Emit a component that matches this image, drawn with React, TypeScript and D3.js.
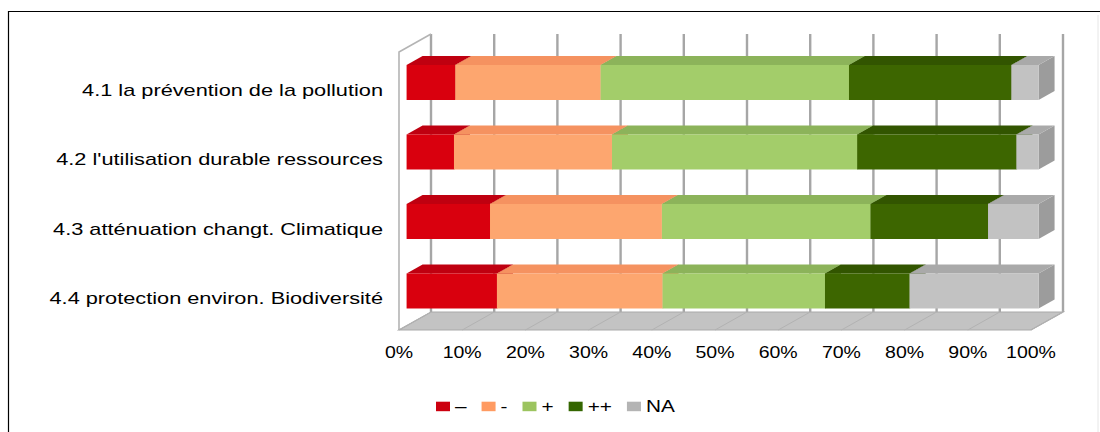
import React from "react";
import * as d3 from "d3";

const categories = [
  "4.1 la prévention de la pollution",
  "4.2 l'utilisation durable ressources",
  "4.3 atténuation changt. Climatique",
  "4.4 protection environ. Biodiversité",
];
const seriesNames = ["–", "-", "+", "++", "NA"];
const sMinusMinus = [7.7, 7.5, 13.2, 14.3];
const sMinus = [23.0, 25.0, 27.2, 26.2];
const sPlus = [39.3, 38.8, 33.0, 25.7];
const sPlusPlus = [25.7, 25.2, 18.6, 13.4];
const sNA = [4.3, 3.5, 8.0, 20.4];
const tickValues = [0, 10, 20, 30, 40, 50, 60, 70, 80, 90, 100];

const seriesValues = [sMinusMinus, sMinus, sPlus, sPlusPlus, sNA];

const frontColors = ["#d9000e", "#fda66f", "#a3cd6a", "#3d6600", "#c2c2c2"];
const topColors = ["#bf0010", "#f59260", "#8cb35a", "#325500", "#a9a9a9"];
const sideColors = ["#a8000e", "#e07f50", "#7aa04c", "#2a4800", "#9c9c9c"];
const legendColors = ["#cc000f", "#ff9b62", "#9cc45f", "#346600", "#b4b4b4"];

const W = 1100;
const H = 432;
const FONT = "'Liberation Sans', Arial, sans-serif";

function measure(text: string, size: number) {
  if (typeof document === "undefined") return text.length * size * 0.55;
  const c = document.createElement("canvas");
  const ctx = c.getContext("2d");
  if (!ctx) return text.length * size * 0.55;
  ctx.font = `${size}px 'Liberation Sans', Arial, sans-serif`;
  return ctx.measureText(text).width;
}

export default function App() {
  const x = d3.scaleLinear().domain([0, 100]).range([399, 1031]);
  const y = d3
    .scaleBand<string>()
    .domain(categories)
    .range([52, 330])
    .paddingInner(0.496)
    .paddingOuter(0.248);
  const bw = y.bandwidth();
  const DX = 32;
  const DY = -18;
  const t1 = 0.237;
  const t2 = 0.737;
  const yTop = 52;
  const yBot = 330;

  const p = (xv: number, yv: number, t: number): [number, number] => [
    x(xv) + t * DX,
    yv + t * DY,
  ];
  const poly = (pts: [number, number][]) =>
    pts.map((q) => `${q[0].toFixed(2)},${q[1].toFixed(2)}`).join(" ");

  const stackData = categories.map((c, i) => {
    const row: any = { cat: c };
    seriesNames.forEach((s, k) => (row[s] = seriesValues[k][i]));
    return row;
  });
  const stacked = d3.stack<any>().keys(seriesNames)(stackData);

  // legend layout
  const legendScale = 1.3;
  const sq = 14;
  let lx = 436;
  const legendItems = seriesNames.map((s, k) => {
    const item = { s, k, x: lx };
    const tw = measure(s, 16) * legendScale;
    lx += sq + 5 + tw + 15;
    return item;
  });

  return (
    <svg
      width={W}
      height={H}
      style={{ position: "absolute", left: 0, top: 0, background: "#fff" }}
      fontFamily={FONT}
    >
      <rect x={0} y={0} width={W} height={H} fill="#fff" />
      {/* outer border */}
      <line x1={8} y1={11.5} x2={W} y2={11.5} stroke="#000" strokeWidth={1.2} />
      <line x1={8.5} y1={11} x2={8.5} y2={H} stroke="#000" strokeWidth={1.2} />
      <line x1={1098} y1={15} x2={1098} y2={H} stroke="#e6e6e6" strokeWidth={1} />

      {/* back wall gridlines */}
      {tickValues.map((t) => (
        <line
          key={"g" + t}
          x1={x(t) + DX}
          x2={x(t) + DX}
          y1={yTop + DY}
          y2={yBot + DY}
          stroke="#a6a6a6"
          strokeWidth={2.4}
        />
      ))}

      {/* left wall outline */}
      <polyline
        points={poly([
          [x(0), yBot],
          [x(0), yTop],
          [x(0) + DX, yTop + DY],
        ])}
        fill="none"
        stroke="#b4b4b4"
        strokeWidth={1.6}
      />

      {/* floor */}
      <polygon
        points={poly([
          [x(0), yBot],
          [x(100), yBot],
          [x(100) + DX, yBot + DY],
          [x(0) + DX, yBot + DY],
        ])}
        fill="#c3c3c3"
        stroke="#a9a9a9"
        strokeWidth={1.2}
      />
      {tickValues.map((t) => (
        <line
          key={"f" + t}
          x1={x(t)}
          y1={yBot}
          x2={x(t) + DX}
          y2={yBot + DY}
          stroke="#b2b2b2"
          strokeWidth={1}
        />
      ))}

      {/* bars */}
      {categories.map((c, i) => {
        const top = y(c) as number;
        const bot = top + bw;
        return (
          <g key={c}>
            {stacked.map((ser, k) => {
              const a = ser[i][0];
              const b = ser[i][1];
              const f0 = p(a, top, t1);
              const f1 = p(b, bot, t1);
              return (
                <g key={k}>
                  <polygon
                    points={poly([
                      p(b, top, t1),
                      p(b, top, t2),
                      p(b, bot, t2),
                      p(b, bot, t1),
                    ])}
                    fill={sideColors[k]}
                  />
                  <polygon
                    points={poly([
                      p(a, top, t1),
                      p(a, top, t2),
                      p(b, top, t2),
                      p(b, top, t1),
                    ])}
                    fill={topColors[k]}
                  />
                  <rect
                    x={f0[0]}
                    y={f0[1]}
                    width={f1[0] - f0[0]}
                    height={f1[1] - f0[1]}
                    fill={frontColors[k]}
                  />
                </g>
              );
            })}
          </g>
        );
      })}

      {/* category labels */}
      {categories.map((c) => {
        const cy = (y(c) as number) + bw / 2 + 9;
        return (
          <text
            key={"l" + c}
            transform={`translate(383,${cy.toFixed(2)}) scale(1.36,1)`}
            textAnchor="end"
            fontSize={16}
            fill="#000"
          >
            {c}
          </text>
        );
      })}

      {/* axis labels */}
      {tickValues.map((t) => (
        <text
          key={"a" + t}
          transform={`translate(${x(t).toFixed(2)},358.3) scale(1.22,1)`}
          textAnchor="middle"
          fontSize={16}
          fill="#000"
        >
          {t + "%"}
        </text>
      ))}

      {/* legend */}
      {legendItems.map((it) => (
        <g key={"lg" + it.k}>
          <rect x={it.x} y={401.7} width={sq} height={9.5} fill={legendColors[it.k]} />
          <text
            transform={`translate(${(it.x + sq + 5).toFixed(2)},412.3) scale(${legendScale},1)`}
            fontSize={16}
            fill="#000"
          >
            {it.s}
          </text>
        </g>
      ))}
    </svg>
  );
}
